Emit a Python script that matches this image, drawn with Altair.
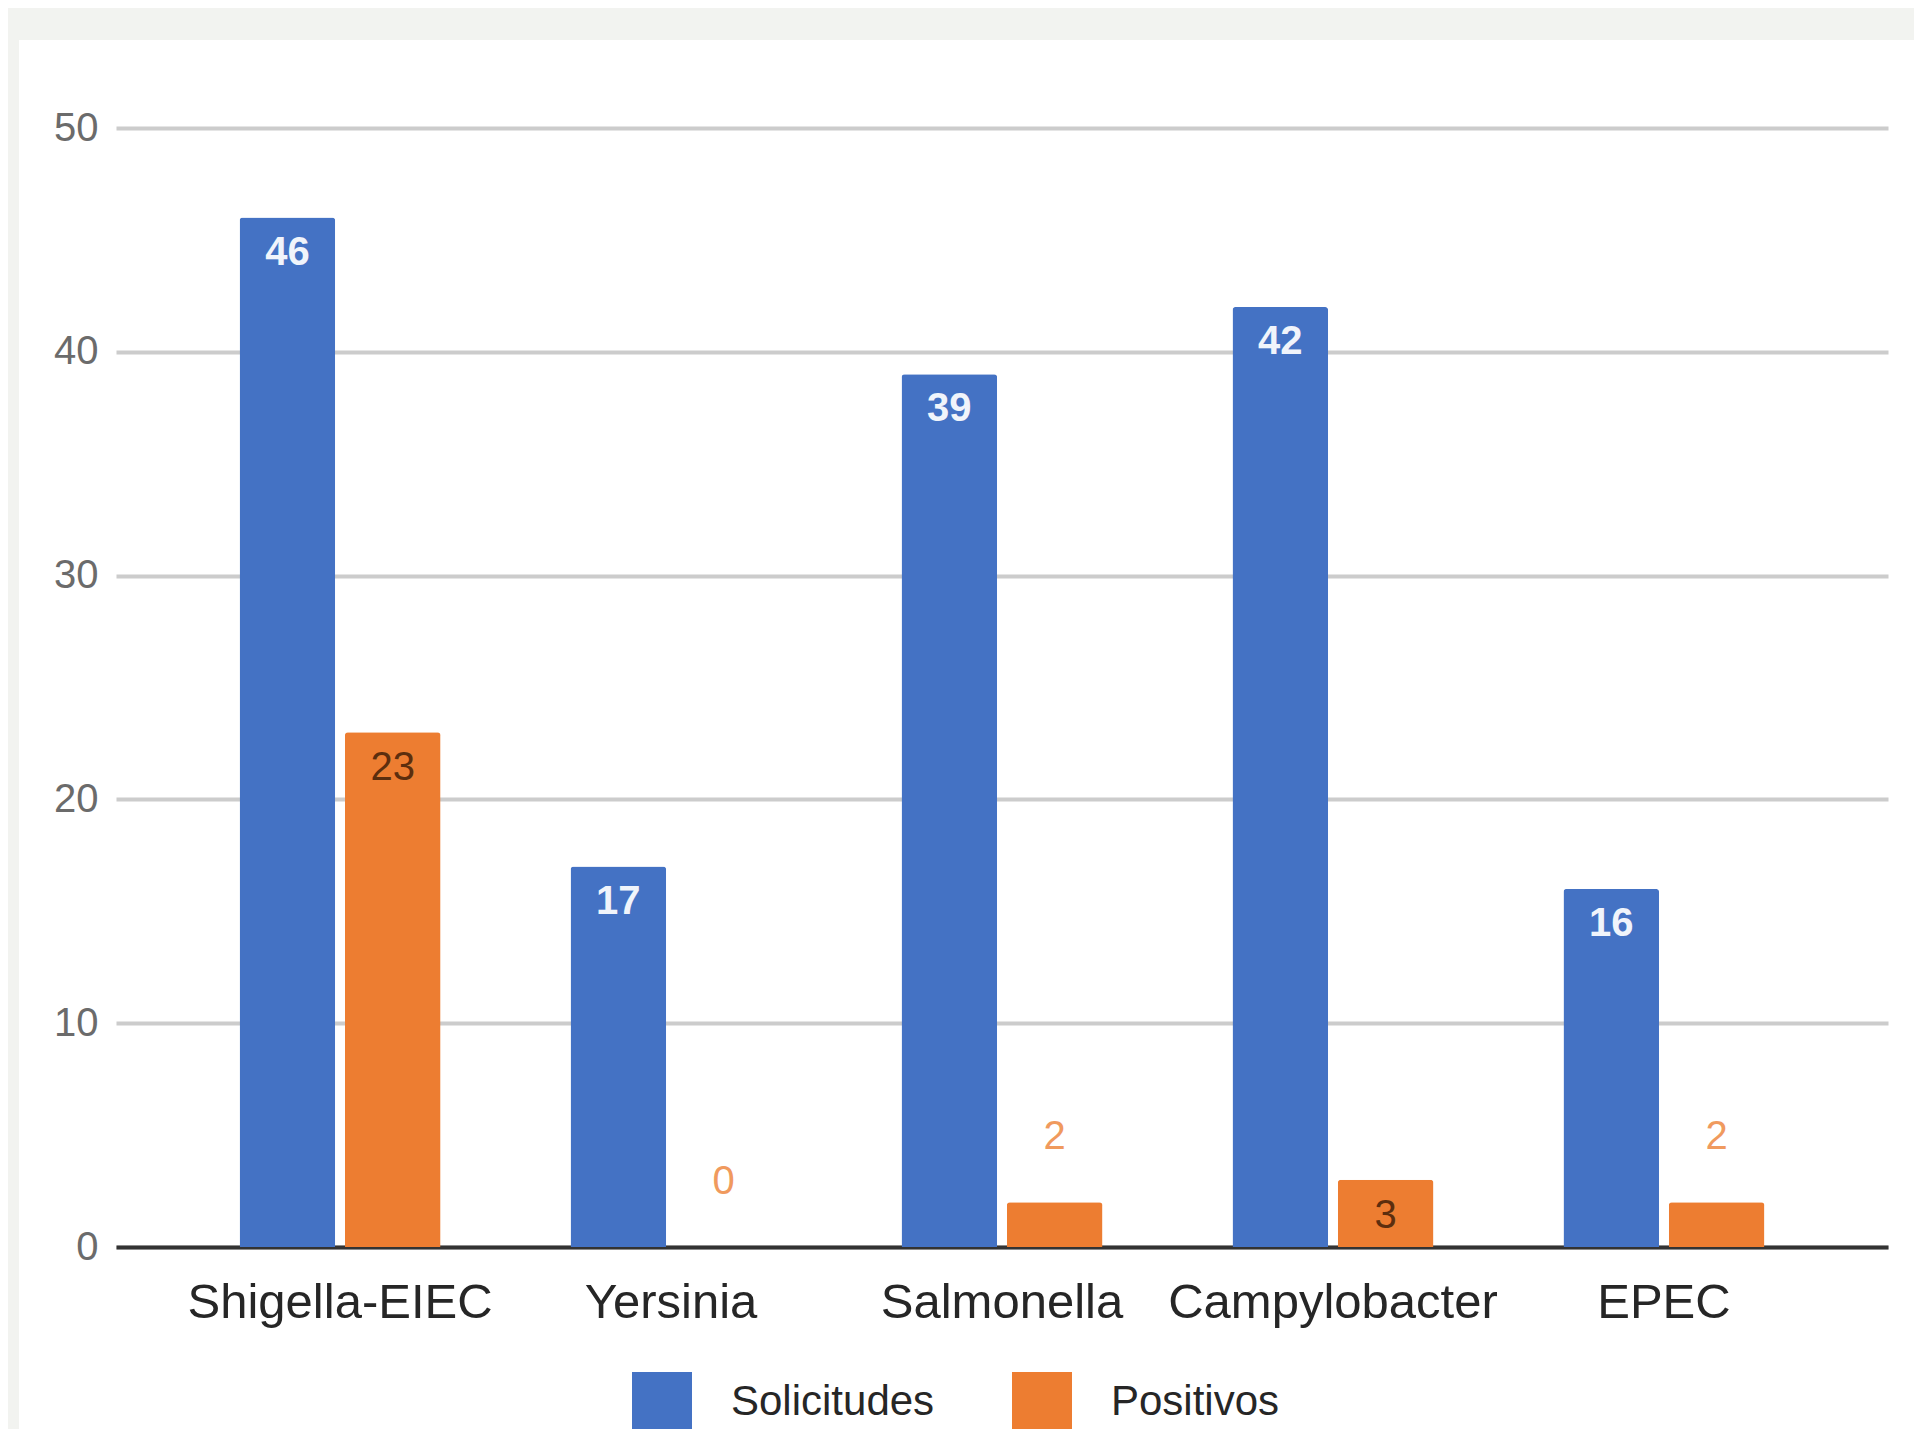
import altair as alt
import pandas as pd

categorias = ["Shigella-EIEC", "Yersinia", "Salmonella", "Campylobacter", "EPEC"]
solicitudes = [46, 17, 39, 42, 16]
positivos = [23, 0, 2, 3, 2]
series = ["Solicitudes", "Positivos"]
colores = ["#4472C4", "#ED7D31"]

rows = []
for c, s, p in zip(categorias, solicitudes, positivos):
    rows.append({"categoria": c, "serie": "Solicitudes", "valor": s})
    rows.append({"categoria": c, "serie": "Positivos", "valor": p})
df = pd.DataFrame(rows)

W, H = 1772, 1119
FONT = "Liberation Sans"

x_enc = alt.X(
    "categoria:N",
    sort=categorias,
    scale=alt.Scale(paddingInner=0, paddingOuter=0.177),
    axis=alt.Axis(
        title=None, labelAngle=0, ticks=False, domain=True,
        domainColor="#333333", domainWidth=4,
        labelFont=FONT, labelFontSize=49, labelColor="#262626",
        labelBaseline="alphabetic", labelPadding=70,
        labelLimit=0, labelOverlap=False,
    ),
)
xoff_enc = alt.XOffset(
    "serie:N",
    sort=series,
    scale=alt.Scale(domain=series, paddingInner=0.093, paddingOuter=0.617),
)
y_enc = alt.Y(
    "valor:Q",
    scale=alt.Scale(domain=[0, 50], nice=False),
    axis=alt.Axis(
        title=None, values=[0, 10, 20, 30, 40, 50], domain=False, ticks=False,
        gridColor="#cccccc", gridWidth=4,
        labelFont=FONT, labelFontSize=40, labelColor="#6b6b6b", labelPadding=18,
    ),
)
color_enc = alt.Color(
    "serie:N",
    sort=series,
    scale=alt.Scale(domain=series, range=colores),
    legend=alt.Legend(
        title=None, orient="none", direction="horizontal",
        legendX=516, legendY=1244,
        symbolType="square", symbolSize=3600, symbolStrokeWidth=0,
        symbolOpacity=1,
        labelFont=FONT, labelFontSize=42, labelColor="#262626",
        labelOffset=39, columnPadding=77, padding=0, labelLimit=0,
    ),
)

base = alt.Chart(df)

bars = base.mark_bar(cornerRadiusTopLeft=3, cornerRadiusTopRight=3).encode(
    x=x_enc, xOffset=xoff_enc, y=y_enc, color=color_enc
)

lab_blue = base.transform_filter("datum.serie == 'Solicitudes'").mark_text(
    font=FONT, fontSize=40, fontWeight="bold", color="#f0f4fb", dy=35, baseline="middle"
).encode(x=x_enc, xOffset=xoff_enc, y=y_enc, text="valor:Q")

lab_orange_in = base.transform_filter("datum.serie == 'Positivos' && datum.valor >= 3").mark_text(
    font=FONT, fontSize=40, color="#5c2e0e", dy=36, baseline="middle"
).encode(x=x_enc, xOffset=xoff_enc, y=y_enc, text="valor:Q")

lab_orange_out = base.transform_filter("datum.serie == 'Positivos' && datum.valor < 3").mark_text(
    font=FONT, fontSize=40, color="#F09A5E", dy=-65, baseline="middle"
).encode(x=x_enc, xOffset=xoff_enc, y=y_enc, text="valor:Q")

strip_left = alt.Chart(alt.Data(values=[{}])).mark_rect(color="#f2f3f0").encode(
    x=alt.value(-108), x2=alt.value(-97), y=alt.value(-120), y2=alt.value(H + 200)
)
strip_top = alt.Chart(alt.Data(values=[{}])).mark_rect(color="#f2f3f0").encode(
    x=alt.value(-108), x2=alt.value(W + 40), y=alt.value(-120), y2=alt.value(-88)
)

chart = alt.layer(strip_left, strip_top, bars, lab_blue, lab_orange_in, lab_orange_out).properties(
    width=W, height=H,
    autosize=alt.AutoSizeParams(type="none"),
    padding={"left": 108, "top": 120, "right": 26, "bottom": 182},
    background="white",
).configure_view(stroke=None)

chart.save("out.html", embed_options={"renderer": "svg", "actions": False})
